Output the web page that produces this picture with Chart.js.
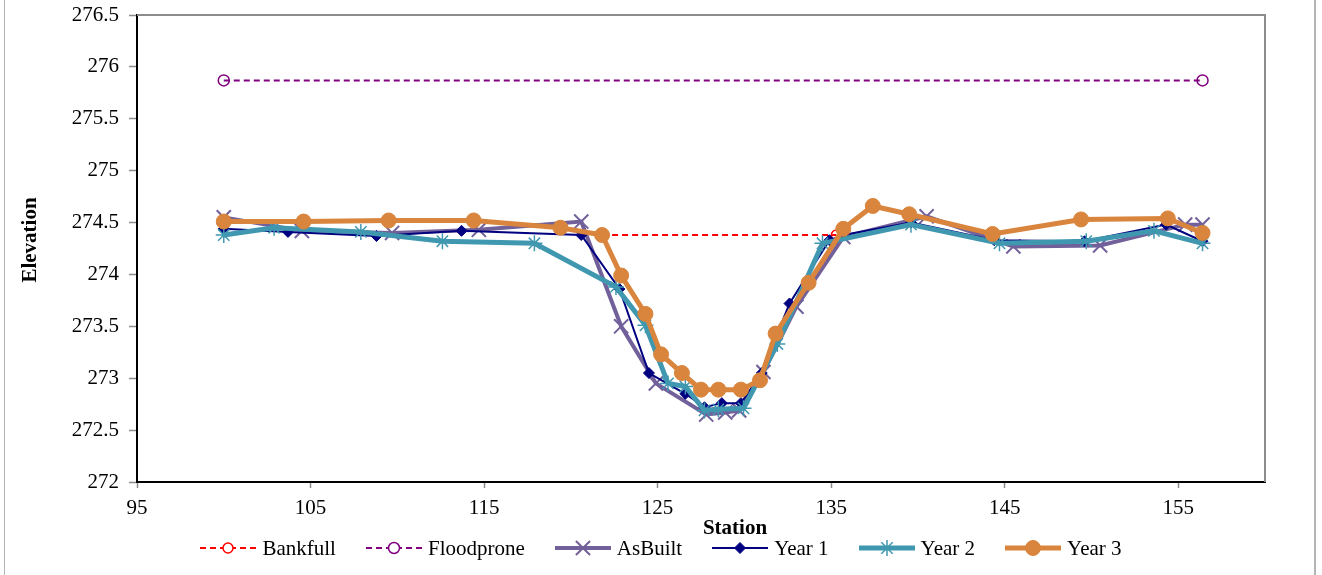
<!DOCTYPE html>
<html>
<head>
<meta charset="utf-8">
<script src="https://cdn.jsdelivr.net/npm/chart.js@4.4.0/dist/chart.umd.min.js"></script>
<style>
  html, body { margin: 0; padding: 0; background: #fff; }
  #wrap { position: relative; width: 1322px; height: 575px; font-family: 'Liberation Serif', 'Times New Roman', serif; color: #000; }
  #frame { position: absolute; left: 4px; top: 0; width: 1312px; height: 575px; border-left: 1px solid #b4b4b4; border-right: 2px solid #b4b4b4; box-sizing: border-box; pointer-events: none; }
  #grafico { position: absolute; left: 0; top: 0; }
  .titulo-eixo { position: absolute; font-weight: bold; font-size: 21px; white-space: nowrap; line-height: 1; }
  #t-x { left: 735px; top: 527px; transform: translate(-50%, -50%); }
  #t-y { left: 29px; top: 240px; transform: translate(-50%, -50%) rotate(-90deg); }
  #legenda { position: absolute; left: 0; top: 548px; width: 1322px; transform: translateY(-50%); display: flex; justify-content: center; font-size: 21px; line-height: 1; }
  .item { display: flex; align-items: center; margin: 0 15px; }
  .item canvas { margin-right: 6px; }
</style>
</head>
<body>
<div id="wrap">
  <canvas id="grafico" width="1322" height="575"></canvas>
  <div id="frame"></div>
  <div class="titulo-eixo" id="t-x">Station</div>
  <div class="titulo-eixo" id="t-y">Elevation</div>
  <div id="legenda"></div>
</div>
<script>
// eixos
const xTicks = [95, 105, 115, 125, 135, 145, 155]
const xMin = 95, xMax = 160
const yMin = 272, yMax = 276.5, yStep = 0.5

// dados
const bankfullStation = [121.8, 135.3]
const bankfullElev = [274.38, 274.38]

const floodproneStation = [100.0, 156.4]
const floodproneElev = [275.87, 275.87]

const asBuiltStation = [100.0, 104.5, 109.7, 114.7, 120.6, 122.9, 124.9, 127.8, 128.9, 129.7, 131.1, 133.0, 135.7, 140.5, 145.5, 150.5, 155.4, 156.4]
const asBuiltElev = [274.55, 274.42, 274.40, 274.43, 274.51, 273.50, 272.95, 272.65, 272.67, 272.69, 273.06, 273.69, 274.36, 274.56, 274.27, 274.28, 274.48, 274.48]

const year1Station = [100.0, 103.7, 108.8, 113.7, 120.6, 122.8, 124.5, 126.6, 127.7, 128.7, 129.8, 131.0, 132.6, 134.9, 135.7, 139.6, 144.4, 149.6, 154.3, 156.4]
const year1Elev = [274.44, 274.41, 274.37, 274.42, 274.38, 273.86, 273.05, 272.85, 272.72, 272.76, 272.76, 273.05, 273.72, 274.33, 274.38, 274.50, 274.33, 274.32, 274.48, 274.32]

const year2Station = [100.0, 102.9, 107.9, 112.6, 117.9, 122.6, 124.3, 125.6, 126.6, 127.7, 128.5, 129.95, 131.9, 134.5, 139.6, 144.7, 149.7, 153.6, 156.4]
const year2Elev = [274.38, 274.45, 274.41, 274.32, 274.30, 273.88, 273.51, 272.95, 272.92, 272.69, 272.70, 272.71, 273.33, 274.30, 274.48, 274.30, 274.32, 274.42, 274.30]

const year3Station = [100.0, 104.6, 109.5, 114.4, 119.4, 121.8, 122.9, 124.3, 125.2, 126.4, 127.5, 128.5, 129.8, 130.9, 131.8, 133.7, 135.7, 137.4, 139.5, 144.3, 149.4, 154.4, 156.4]
const year3Elev = [274.51, 274.51, 274.52, 274.52, 274.45, 274.38, 273.99, 273.62, 273.23, 273.05, 272.89, 272.89, 272.89, 272.98, 273.43, 273.92, 274.44, 274.66, 274.58, 274.39, 274.53, 274.54, 274.40]

function pontos(xs, ys) {
  return xs.map((x, i) => ({ x, y: ys[i] }))
}

// estilos das séries (ordem menor = desenhada por cima)
const series = [
  { label: 'Bankfull', xs: bankfullStation, ys: bankfullElev, cor: '#FF0000', largura: 2, traco: [6, 4], marcador: 'circle', raio: 5, cheio: false, borda: 1.5, ordem: 5 },
  { label: 'Floodprone', xs: floodproneStation, ys: floodproneElev, cor: '#800080', largura: 2, traco: [6, 4], marcador: 'circle', raio: 5.5, cheio: false, borda: 1.5, ordem: 4 },
  { label: 'AsBuilt', xs: asBuiltStation, ys: asBuiltElev, cor: '#72609A', largura: 4, traco: [], marcador: 'crossRot', raio: 10, cheio: false, borda: 2, ordem: 3 },
  { label: 'Year 1', xs: year1Station, ys: year1Elev, cor: '#000080', largura: 2, traco: [], marcador: 'rectRot', raio: 5.5, cheio: true, borda: 1, ordem: 2 },
  { label: 'Year 2', xs: year2Station, ys: year2Elev, cor: '#4098B0', largura: 5, traco: [], marcador: 'star', raio: 8, cheio: false, borda: 1.5, ordem: 1 },
  { label: 'Year 3', xs: year3Station, ys: year3Elev, cor: '#D9853D', largura: 5, traco: [], marcador: 'circle', raio: 7.5, cheio: true, borda: 1, ordem: 0 }
]

const datasets = series.map(s => ({
  label: s.label,
  data: pontos(s.xs, s.ys),
  borderColor: s.cor,
  borderWidth: s.largura,
  borderDash: s.traco,
  pointStyle: s.marcador,
  pointRadius: s.raio,
  pointBorderColor: s.cor,
  pointBackgroundColor: s.cheio ? s.cor : 'rgba(0,0,0,0)',
  pointBorderWidth: s.borda,
  tension: 0,
  fill: false,
  order: s.ordem
}))

const moldura = {
  id: 'moldura',
  beforeDatasetsDraw(chart) {
    const { ctx, chartArea: a } = chart
    ctx.save()
    ctx.strokeStyle = '#8c8c8c'
    ctx.lineWidth = 2
    ctx.beginPath()
    ctx.moveTo(a.left, a.top)
    ctx.lineTo(a.right, a.top)
    ctx.lineTo(a.right, a.bottom)
    ctx.stroke()
    ctx.restore()
  }
}

const fonteTick = { family: "'Liberation Serif', 'Times New Roman', serif", size: 21 }

new Chart(document.getElementById('grafico'), {
  type: 'line',
  data: { datasets },
  options: {
    responsive: false,
    devicePixelRatio: 1,
    animation: false,
    layout: { padding: { left: 0, right: 57, top: 15, bottom: 0 } },
    plugins: { legend: { display: false }, tooltip: { enabled: false } },
    scales: {
      x: {
        type: 'linear',
        min: xMin,
        max: xMax,
        afterBuildTicks: s => { s.ticks = xTicks.map(v => ({ value: v })) },
        afterFit: s => { s.height = 93; s.paddingLeft = 0; s.paddingRight = 0 },
        grid: { drawOnChartArea: false, drawTicks: true, tickLength: 6, color: '#8c8c8c', tickWidth: 1.5 },
        border: { color: '#000', width: 2 },
        ticks: { color: '#000', font: fonteTick, padding: 8, maxRotation: 0, autoSkip: false }
      },
      y: {
        min: yMin,
        max: yMax,
        afterFit: s => { s.width = 137; s.paddingTop = 0; s.paddingBottom = 0 },
        grid: { drawOnChartArea: false, drawTicks: true, tickLength: 8, color: '#8c8c8c', tickWidth: 1.5 },
        border: { color: '#000', width: 2 },
        ticks: { color: '#000', font: fonteTick, padding: 10, stepSize: yStep, callback: v => String(Number(v)) }
      }
    }
  },
  plugins: [moldura]
})

// legenda em HTML, com ícone de linha + marcador
function desenharMarcador(ctx, s, x, y) {
  const r = s.raio
  ctx.setLineDash([])
  ctx.lineWidth = s.borda
  ctx.strokeStyle = s.cor
  ctx.fillStyle = s.cor
  ctx.beginPath()
  if (s.marcador === 'circle') {
    ctx.arc(x, y, r, 0, Math.PI * 2)
    if (s.cheio) ctx.fill()
    else { ctx.fillStyle = '#fff'; ctx.fill() }
    ctx.stroke()
  } else if (s.marcador === 'rectRot') {
    ctx.moveTo(x, y - r); ctx.lineTo(x + r, y); ctx.lineTo(x, y + r); ctx.lineTo(x - r, y); ctx.closePath()
    ctx.fill(); ctx.stroke()
  } else {
    const d = r * Math.SQRT1_2
    ctx.moveTo(x - d, y - d); ctx.lineTo(x + d, y + d)
    ctx.moveTo(x - d, y + d); ctx.lineTo(x + d, y - d)
    if (s.marcador === 'star') {
      ctx.moveTo(x, y - r); ctx.lineTo(x, y + r)
      ctx.moveTo(x - r, y); ctx.lineTo(x + r, y)
    }
    ctx.stroke()
  }
}

const legenda = document.getElementById('legenda')
series.forEach(s => {
  const item = document.createElement('div')
  item.className = 'item'
  const c = document.createElement('canvas')
  c.width = 56
  c.height = 22
  const ctx = c.getContext('2d')
  ctx.strokeStyle = s.cor
  ctx.lineWidth = s.largura
  ctx.setLineDash(s.traco)
  ctx.beginPath()
  ctx.moveTo(0, 11)
  ctx.lineTo(56, 11)
  ctx.stroke()
  desenharMarcador(ctx, s, 28, 11)
  const t = document.createElement('span')
  t.textContent = s.label
  item.appendChild(c)
  item.appendChild(t)
  legenda.appendChild(item)
})
</script>
</body>
</html>
